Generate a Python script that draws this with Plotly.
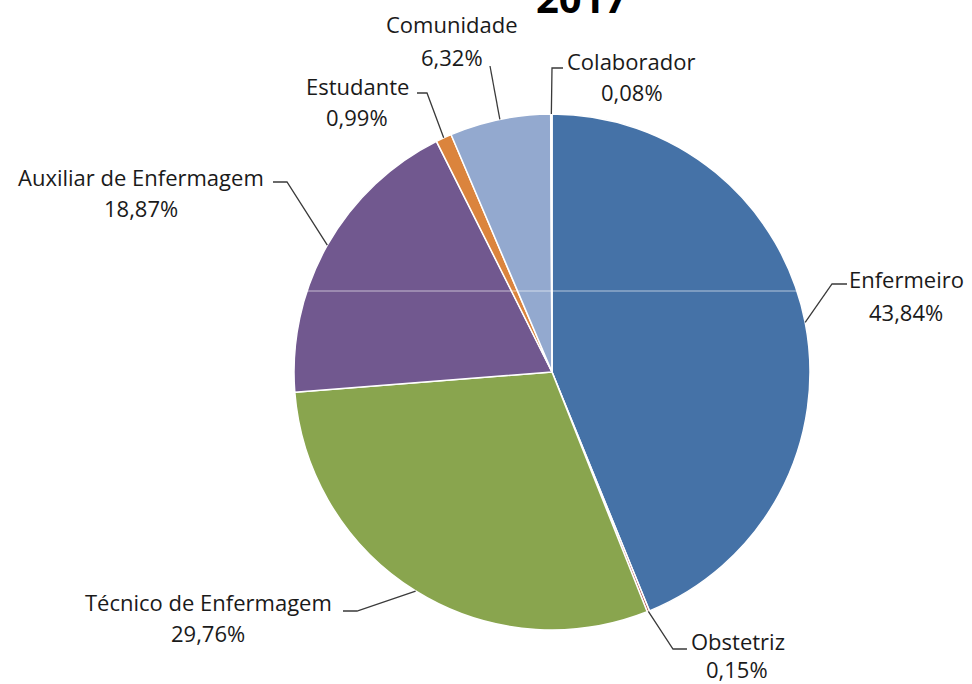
import math
import plotly.graph_objects as go

W, H = 972, 684

categories = ["Enfermeiro", "Obstetriz", "Técnico de Enfermagem", "Auxiliar de Enfermagem",
              "Estudante", "Comunidade", "Colaborador"]
values = [43.84, 0.15, 29.76, 18.87, 0.99, 6.32, 0.08]
colors = ["#4572A7", "#AA4643", "#89A54E", "#71588F", "#DB843D", "#93A9CF", "#D19392"]
title_text = "2017"

# layout constants (pixels)
CX, CY, R = 552, 372, 258
# per label: (elbow point or None, line end point, name center, pct center)
label_layout = {
    "Enfermeiro": ((832, 284), (847, 284), (906, 279), (906, 312)),
    "Obstetriz": ((673, 649), (687, 649), (738, 641), (737, 669)),
    "Técnico de Enfermagem": ((357, 611), (343, 611), (208, 602), (208, 633)),
    "Auxiliar de Enfermagem": ((287, 182), (273, 182), (141, 177), (141, 208)),
    "Estudante": ((427, 93), (417, 93), (357, 86), (357, 117)),
    "Comunidade": (None, (490, 66), (452, 24), (452, 57)),
    "Colaborador": ((552, 68), (563, 68), (631, 61), (632, 92)),
}

def px(x):
    return x / W

def py(y):
    return 1 - y / H

fig = go.Figure()
fig.add_trace(go.Pie(
    labels=categories, values=values, sort=False, direction="clockwise", rotation=0,
    marker=dict(colors=colors, line=dict(color="white", width=1.5)),
    textinfo="none", hoverinfo="label+percent", showlegend=False,
    domain=dict(x=[px(CX - R), px(CX + R)], y=[py(CY + R), py(CY - R)]),
))

total = sum(values)
shapes = []
annotations = []
cum = 0.0
font = dict(family="'Open Sans', sans-serif", size=22, color="#1a1a1a")
for cat, v in zip(categories, values):
    mid = (cum + v / 2) / total * 2 * math.pi
    cum += v
    ex = CX + R * math.sin(mid)
    ey = CY - R * math.cos(mid)
    elbow, end, name_c, pct_c = label_layout[cat]
    pts = [(ex, ey)] + ([elbow] if elbow else []) + [end]
    path = "M " + " L ".join(f"{px(x):.5f},{py(y):.5f}" for x, y in pts)
    shapes.append(dict(type="path", xref="paper", yref="paper", path=path,
                       line=dict(color="#3a3a3a", width=1.3)))
    pct = f"{v:.2f}".replace(".", ",") + "%"
    annotations.append(dict(text=cat, x=px(name_c[0]), y=py(name_c[1]), xref="paper", yref="paper",
                            xanchor="center", yanchor="middle", showarrow=False, font=font))
    annotations.append(dict(text=pct, x=px(pct_c[0]), y=py(pct_c[1]), xref="paper", yref="paper",
                            xanchor="center", yanchor="middle", showarrow=False, font=font))

# thin light line crossing the pie (as in the reference image)
shapes.append(dict(type="line", xref="paper", yref="paper", x0=px(CX - R + 2), x1=px(CX + R - 2),
                   y0=py(291), y1=py(291), line=dict(color="rgba(255,255,255,0.6)", width=1)))

annotations.append(dict(text="<b>" + title_text + "</b>", x=px(581), y=py(-3), xref="paper", yref="paper",
                        xanchor="center", yanchor="middle", showarrow=False,
                        font=dict(family="'Open Sans', sans-serif", size=40, color="#000000")))

fig.update_layout(
    width=W, height=H, margin=dict(l=0, r=0, t=0, b=0),
    paper_bgcolor="white", plot_bgcolor="white",
    shapes=shapes, annotations=annotations,
)
fig.write_html("out.html", config={"displayModeBar": False},
               post_script="document.body.style.margin='0';document.body.style.overflow='hidden';")
